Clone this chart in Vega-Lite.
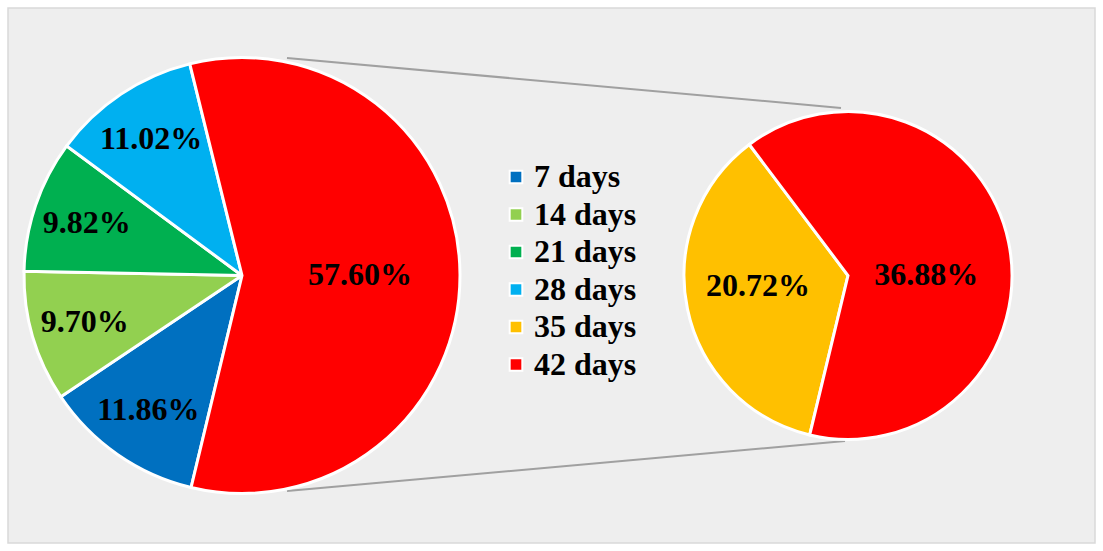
{
  "$schema": "https://vega.github.io/schema/vega-lite/v6.json",
  "autosize": {"type": "fit", "contains": "padding"},
  "width": 1103,
  "height": 551,
  "padding": 8,
  "background": "white",
  "config": {
    "view": {"fill": "#eeeeee", "stroke": "#d9d9d9", "strokeWidth": 1.5},
    "text": {"font": "Liberation Serif", "fontWeight": "bold", "fontSize": 32, "color": "black"}
  },
  "layer": [
    {
      "data": {"values": [
        {"from": "main top", "x": 287, "y": 58, "x2": 841, "y2": 108},
        {"from": "main bottom", "x": 287, "y": 491, "x2": 845, "y2": 441}
      ]},
      "mark": {"type": "rule", "color": "#a0a0a0", "strokeWidth": 2},
      "encoding": {
        "x": {"field": "x", "type": "quantitative", "scale": {"domain": [8, 1095]}, "axis": null},
        "x2": {"field": "x2"},
        "y": {"field": "y", "type": "quantitative", "scale": {"domain": [8, 543], "reverse": true}, "axis": null},
        "y2": {"field": "y2"}
      }
    },
    {
      "data": {"values": [
        {"pie": "main", "slice": "7 days", "days": 7, "pct": 11.86, "label": "11.86%"},
        {"pie": "main", "slice": "14 days", "days": 14, "pct": 9.70, "label": "9.70%"},
        {"pie": "main", "slice": "21 days", "days": 21, "pct": 9.82, "label": "9.82%"},
        {"pie": "main", "slice": "28 days", "days": 28, "pct": 11.02, "label": "11.02%"},
        {"pie": "main", "slice": "Other", "days": 35, "pct": 57.60, "label": "57.60%"}
      ]},
      "encoding": {
        "x": {"field": "pie", "type": "nominal", "scale": {"type": "point", "domain": ["main", "detail"], "range": [234, 840], "padding": 0}, "axis": null},
        "theta": {"field": "pct", "type": "quantitative", "stack": true, "scale": {"domain": [0, 100], "range": [3.3772, 9.6604], "nice": false}},
        "order": {"field": "days", "type": "quantitative", "sort": "ascending"}
      },
      "layer": [
        {
          "mark": {"type": "arc", "outerRadius": 218, "stroke": "white", "strokeWidth": 3},
          "encoding": {
            "color": {"field": "slice", "type": "nominal", "legend": null,
              "scale": {"domain": ["7 days", "14 days", "21 days", "28 days", "Other"], "range": ["#0070C0", "#92D050", "#00B050", "#00B0F0", "#FF0000"]}}
          }
        },
        {
          "mark": {"type": "text", "radius": 164, "align": "center", "baseline": "middle"},
          "encoding": {"text": {"condition": {"test": "datum.slice !== 'Other'", "field": "label"}, "value": ""}}
        },
        {
          "mark": {"type": "text", "radius": 118, "align": "center", "baseline": "middle"},
          "encoding": {"text": {"condition": {"test": "datum.slice === 'Other'", "field": "label"}, "value": ""}}
        }
      ]
    },
    {
      "data": {"values": [
        {"pie": "detail", "slice": "35 days", "days": 35, "pct": 20.72, "label": "20.72%"},
        {"pie": "detail", "slice": "42 days", "days": 42, "pct": 36.88, "label": "36.88%"}
      ]},
      "encoding": {
        "x": {"field": "pie", "type": "nominal", "scale": {"type": "point", "domain": ["main", "detail"], "range": [234, 840], "padding": 0}, "axis": null},
        "theta": {"field": "pct", "type": "quantitative", "stack": true, "scale": {"domain": [0, 57.6], "range": [3.3772, 9.6604], "nice": false}},
        "order": {"field": "days", "type": "quantitative", "sort": "ascending"}
      },
      "layer": [
        {
          "mark": {"type": "arc", "outerRadius": 164, "stroke": "white", "strokeWidth": 3},
          "encoding": {
            "color": {"field": "slice", "type": "nominal",
              "scale": {"domain": ["7 days", "14 days", "21 days", "28 days", "35 days", "42 days"], "range": ["#0070C0", "#92D050", "#00B050", "#00B0F0", "#FFC000", "#FF0000"]},
              "legend": {"orient": "none", "legendX": 492, "legendY": 153, "title": null, "padding": 0,
                "labelFont": "Liberation Serif", "labelFontSize": 32, "labelFontWeight": "bold", "labelColor": "black",
                "labelOffset": 2, "symbolType": "square", "symbolSize": 160, "symbolStrokeColor": "white", "symbolStrokeWidth": 2,
                "symbolOpacity": 1, "rowPadding": 5.5, "labelLimit": 300}
            }
          }
        },
        {
          "mark": {"type": "text", "radius": 92, "dy": -8, "align": "center", "baseline": "middle"},
          "encoding": {"text": {"condition": {"test": "datum.slice === '35 days'", "field": "label"}, "value": ""}}
        },
        {
          "mark": {"type": "text", "radius": 80, "dy": 16, "align": "center", "baseline": "middle"},
          "encoding": {"text": {"condition": {"test": "datum.slice === '42 days'", "field": "label"}, "value": ""}}
        }
      ]
    }
  ],
  "resolve": {"scale": {"x": "independent", "y": "independent", "theta": "independent", "color": "independent"}}
}
